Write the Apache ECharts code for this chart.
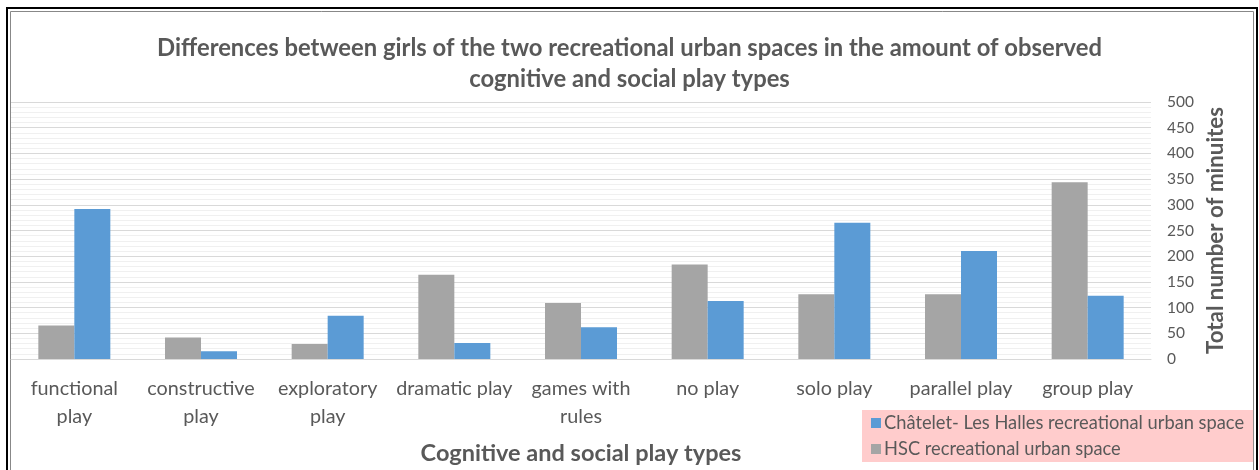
<!DOCTYPE html>
<html>
<head>
<meta charset="utf-8">
<script src="https://cdn.jsdelivr.net/npm/echarts@6/dist/echarts.min.js"></script>
<style>
html,body{margin:0;padding:0;background:#fff;}
#chart{width:1259px;height:470px;}
</style>
</head>
<body>
<div id="chart"></div>
<script>
const categories = ['functional\nplay','constructive\nplay','exploratory\nplay','dramatic play','games with\nrules','no play','solo play','parallel play','group play'];
const hscValues = [65, 42, 29, 164, 109, 184, 126, 126, 344];
const chateletValues = [292, 15, 84, 31, 62, 113, 265, 210, 123];
const yTicks = {min: 0, max: 500, interval: 50};
const seriesNames = ['Châtelet- Les Halles recreational urban space', 'HSC recreational urban space'];

const FONT = 'Lato, "Open Sans", sans-serif';
const chart = echarts.init(document.getElementById('chart'), null, {renderer: 'canvas'});
chart.setOption({
  animation: false,
  backgroundColor: '#fff',
  textStyle: {fontFamily: FONT},
  title: {
    text: 'Differences between girls of the two recreational urban spaces in the amount of observed\ncognitive and social play types',
    left: 'center',
    top: 28,
    textStyle: {fontFamily: FONT, fontSize: 23.8, fontWeight: 'bold', color: '#595959', lineHeight: 31}
  },
  legend: {
    data: seriesNames,
    orient: 'vertical',
    left: 862,
    top: 410,
    backgroundColor: '#ffcccc',
    padding: [4, 9, 4, 9],
    itemWidth: 10,
    itemHeight: 10,
    itemGap: 8,
    icon: 'rect',
    textStyle: {fontFamily: FONT, fontSize: 18.3, color: '#595959', padding: [0, 0, 0, -2]}
  },
  grid: {left: 11, right: 108, top: 102, bottom: 111, containLabel: false, outerBoundsMode: 'none'},
  xAxis: {
    type: 'category',
    data: categories,
    name: 'Cognitive and social play types',
    nameLocation: 'middle',
    nameGap: 82,
    nameTextStyle: {fontFamily: FONT, fontSize: 23.5, fontWeight: 'bold', color: '#595959'},
    axisLine: {show: true, lineStyle: {color: '#d9d9d9'}},
    axisTick: {show: false},
    axisLabel: {fontFamily: FONT, fontSize: 19.8, color: '#595959', lineHeight: 28, margin: 16, interval: 0}
  },
  yAxis: {
    type: 'value',
    position: 'right',
    min: yTicks.min,
    max: yTicks.max,
    interval: yTicks.interval,
    name: 'Total number of minuites',
    nameLocation: 'middle',
    nameRotate: 90,
    nameGap: 50,
    nameTextStyle: {fontFamily: FONT, fontSize: 22.3, fontWeight: 'bold', color: '#595959'},
    axisLine: {show: false},
    axisTick: {show: false},
    axisLabel: {fontFamily: FONT, fontSize: 15.5, color: '#595959', margin: 16},
    splitLine: {show: true, lineStyle: {color: '#d9d9d9', width: 1}},
    minorTick: {show: false, splitNumber: 5},
    minorSplitLine: {show: true, lineStyle: {color: '#f0f0f0', width: 1}}
  },
  series: [
    {
      name: seriesNames[1],
      type: 'bar',
      data: hscValues,
      barWidth: 36,
      barGap: '0%',
      itemStyle: {color: '#a5a5a5'}
    },
    {
      name: seriesNames[0],
      type: 'bar',
      data: chateletValues,
      barWidth: 36,
      barGap: '0%',
      itemStyle: {color: '#5b9bd5'}
    }
  ],
  graphic: [
    {type: 'rect', silent: true, shape: {x: 7, y: 8, width: 1250, height: 480}, style: {fill: 'none', stroke: '#000', lineWidth: 2}},
    {type: 'rect', silent: true, shape: {x: 10.5, y: 11.5, width: 1243, height: 480}, style: {fill: 'none', stroke: '#888', lineWidth: 1}}
  ]
});
</script>
</body>
</html>
